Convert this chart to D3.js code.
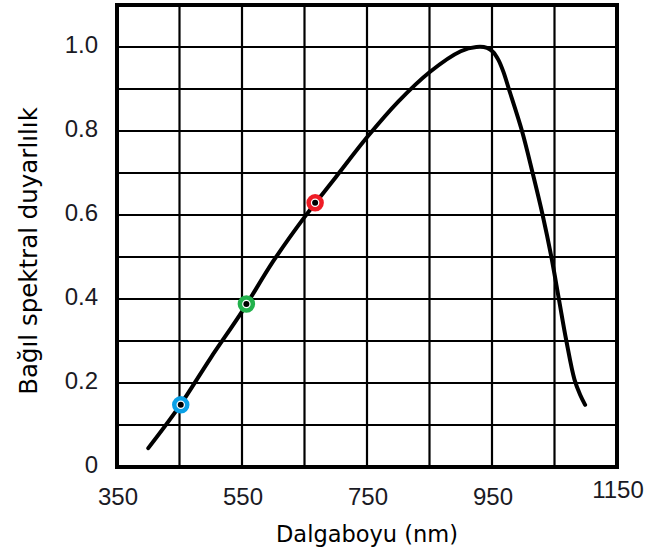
<!DOCTYPE html>
<html>
<head>
<meta charset="utf-8">
<script src="https://cdn.jsdelivr.net/npm/d3@7"></script>
<style>
  body { margin: 0; background: #fff; }
  #chart { width: 651px; height: 559px; }
</style>
</head>
<body>
<div id="chart"></div>
<script>
// curve
const wavelength = [400, 450, 500, 550, 600, 650, 700, 750, 800, 850, 900, 925, 942, 952, 960, 968, 977, 998, 1015, 1031, 1045, 1057, 1069, 1082, 1091, 1099];
const response   = [0.045, 0.145, 0.26, 0.37, 0.49, 0.595, 0.69, 0.785, 0.87, 0.94, 0.99, 1.0, 0.998, 0.988, 0.97, 0.942, 0.9, 0.8, 0.7, 0.6, 0.5, 0.4, 0.3, 0.208, 0.172, 0.148];

// coloured markers on the curve
const markerWl = [452, 557, 667];
const markerVal = [0.148, 0.388, 0.629];
const markerColor = ['#0aa0e6', '#22b14c', '#ee1c25'];

const xTickLabels = [350, 550, 750, 950, 1150];
const yTickLabels = [0, 0.2, 0.4, 0.6, 0.8, 1.0];
const xGrid = [450, 550, 650, 750, 850, 950, 1050];
const yGrid = [0.1, 0.2, 0.3, 0.4, 0.5, 0.6, 0.7, 0.8, 0.9, 1.0];

const xTitle = 'Dalgaboyu (nm)';
const yTitle = 'Bağıl spektral duyarlılık';

const svg = d3.select('#chart')
  .append('svg')
  .attr('width', 651)
  .attr('height', 559);

const x = d3.scaleLinear().domain([350, 1150]).range([117, 617]);
const y = d3.scaleLinear().domain([0, 1.1]).range([467, 5]);

// grid
svg.append('g')
  .selectAll('line')
  .data(xGrid)
  .enter()
  .append('line')
  .attr('x1', (d) => x(d))
  .attr('x2', (d) => x(d))
  .attr('y1', y(0))
  .attr('y2', y(1.1))
  .attr('stroke', '#000')
  .attr('stroke-width', 2.2);

svg.append('g')
  .selectAll('line')
  .data(yGrid)
  .enter()
  .append('line')
  .attr('x1', x(350))
  .attr('x2', x(1150))
  .attr('y1', (d) => y(d))
  .attr('y2', (d) => y(d))
  .attr('stroke', '#000')
  .attr('stroke-width', 2.2);

// frame
svg.append('rect')
  .attr('x', x(350))
  .attr('y', y(1.1))
  .attr('width', x(1150) - x(350))
  .attr('height', y(0) - y(1.1))
  .attr('fill', 'none')
  .attr('stroke', '#000')
  .attr('stroke-width', 4);

// tick labels
svg.append('g')
  .selectAll('text')
  .data(xTickLabels)
  .enter()
  .append('text')
  .attr('x', (d) => x(d) + 1)
  .attr('y', (d) => (d === 1150 ? 498 : 505))
  .attr('text-anchor', 'middle')
  .style('font-family', '"Liberation Sans", Arial, sans-serif')
  .style('font-size', '24px')
  .attr('fill', '#1a1a24')
  .text((d) => d);

svg.append('g')
  .selectAll('text')
  .data(yTickLabels)
  .enter()
  .append('text')
  .attr('x', 98)
  .attr('y', (d) => y(d) - 3)
  .attr('dy', '0.36em')
  .attr('text-anchor', 'end')
  .style('font-family', '"Liberation Sans", Arial, sans-serif')
  .style('font-size', '24px')
  .attr('fill', '#1a1a24')
  .text((d) => (d === 0 ? '0' : d.toFixed(1)));

// axis titles
svg.append('text')
  .attr('x', 367)
  .attr('y', 542)
  .attr('text-anchor', 'middle')
  .style('font-family', '"DejaVu Sans", Verdana, sans-serif')
  .style('font-size', '22.5px')
  .attr('fill', '#000')
  .text(xTitle);

svg.append('text')
  .attr('transform', 'translate(37,251) rotate(-90)')
  .attr('text-anchor', 'middle')
  .style('font-family', '"DejaVu Sans", Verdana, sans-serif')
  .style('font-size', '24.5px')
  .attr('fill', '#000')
  .text(yTitle);

// curve
const data = wavelength.map((w, i) => ({ w, v: response[i] }));

svg.append('path')
  .datum(data)
  .attr('fill', 'none')
  .attr('stroke', '#000')
  .attr('stroke-width', 4)
  .attr('stroke-linecap', 'round')
  .attr('stroke-linejoin', 'round')
  .attr('d', d3.line()
    .x((d) => x(d.w))
    .y((d) => y(d.v))
    .curve(d3.curveCatmullRom.alpha(0.5)));

// markers
const markers = markerWl.map((w, i) => ({ w, v: markerVal[i], c: markerColor[i] }));

svg.append('g')
  .selectAll('circle')
  .data(markers)
  .enter()
  .append('circle')
  .attr('cx', (d) => x(d.w))
  .attr('cy', (d) => y(d.v))
  .attr('r', 6.5)
  .attr('fill', '#fff')
  .attr('stroke', (d) => d.c)
  .attr('stroke-width', 4.5);

svg.append('g')
  .selectAll('circle')
  .data(markers)
  .enter()
  .append('circle')
  .attr('cx', (d) => x(d.w))
  .attr('cy', (d) => y(d.v))
  .attr('r', 3)
  .attr('fill', '#000');
</script>
</body>
</html>
